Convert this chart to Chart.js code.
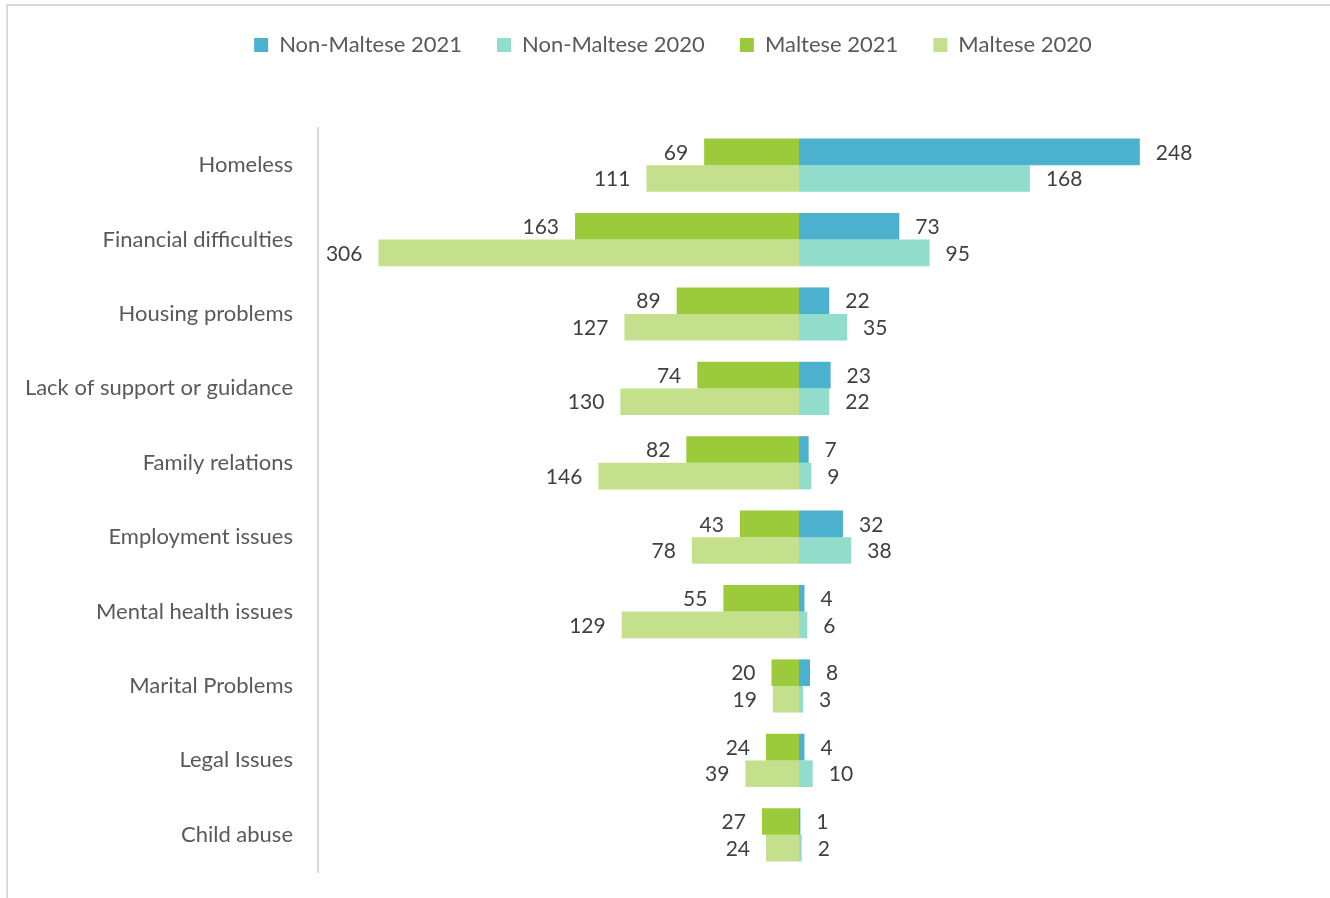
<!DOCTYPE html>
<html>
<head>
<meta charset="utf-8">
<script src="https://cdn.jsdelivr.net/npm/chart.js@4"></script>
<style>
  html, body { margin: 0; padding: 0; background: #fff; }
  #wrap { position: relative; width: 1330px; height: 898px; }
  #frame { position: absolute; left: 6px; top: 4px; right: -4px; bottom: -4px;
           border-top: 2px solid #d9d9d9; border-left: 2px solid #d9d9d9; pointer-events: none; }
</style>
</head>
<body>
<div id="wrap">
  <canvas id="chart" width="1330" height="898"></canvas>
  <div id="frame"></div>
</div>
<script>
// Data
const categories = ['Homeless', 'Financial difficulties', 'Housing problems', 'Lack of support or guidance',
    'Family relations', 'Employment issues', 'Mental health issues', 'Marital Problems', 'Legal Issues', 'Child abuse'];
const nonMaltese2021 = [248, 73, 22, 23, 7, 32, 4, 8, 4, 1];
const nonMaltese2020 = [168, 95, 35, 22, 9, 38, 6, 3, 10, 2];
const maltese2021 = [69, 163, 89, 74, 82, 43, 55, 20, 24, 27];
const maltese2020 = [111, 306, 127, 130, 146, 78, 129, 19, 39, 24];

const fontFamily = 'Lato, "Open Sans", sans-serif';

// Value labels next to bar ends
const barLabels = {
    id: 'barLabels',
    afterDatasetsDraw(chart) {
        const ctx = chart.ctx;
        ctx.save();
        ctx.font = '21px ' + fontFamily;
        ctx.fillStyle = '#404040';
        ctx.textBaseline = 'middle';
        chart.data.datasets.forEach((ds, i) => {
            const meta = chart.getDatasetMeta(i);
            if (meta.hidden) return;
            meta.data.forEach((bar, j) => {
                const v = ds.data[j];
                if (v < 0) {
                    ctx.textAlign = 'right';
                    ctx.fillText(String(-v), bar.x - 16, bar.y + 1);
                } else {
                    ctx.textAlign = 'left';
                    ctx.fillText(String(v), bar.x + 16, bar.y + 1);
                }
            });
        });
        ctx.restore();
    }
};

// Extra space below the legend, and shift it a bit right
const legendSpace = {
    id: 'legendSpace',
    beforeInit(chart) {
        const fit = chart.legend.fit;
        chart.legend.fit = function() {
            fit.bind(chart.legend)();
            this.height = 129;
        };
    },
    afterLayout(chart) {
        chart.legend.left += 33;
        chart.legend.right += 33;
    }
};

const ctx = document.getElementById('chart').getContext('2d');
new Chart(ctx, {
    type: 'bar',
    data: {
        labels: categories,
        datasets: [
            { label: 'Non-Maltese 2021', data: nonMaltese2021, backgroundColor: '#4bb1cf', stack: 'y2021' },
            { label: 'Non-Maltese 2020', data: nonMaltese2020, backgroundColor: '#92dccb', stack: 'y2020' },
            { label: 'Maltese 2021', data: maltese2021.map(v => -v), backgroundColor: '#9bca3a', stack: 'y2021' },
            { label: 'Maltese 2020', data: maltese2020.map(v => -v), backgroundColor: '#c4e08c', stack: 'y2020' }
        ]
    },
    options: {
        indexAxis: 'y',
        responsive: false,
        animation: false,
        layout: { padding: { top: -1, right: 50, bottom: 26, left: 0 } },
        datasets: { bar: { categoryPercentage: 0.715, barPercentage: 1 } },
        plugins: {
            legend: {
                position: 'top',
                labels: {
                    boxWidth: 14,
                    boxHeight: 14,
                    padding: 35,
                    color: '#595959',
                    font: { family: fontFamily, size: 22 }
                }
            },
            tooltip: { enabled: false }
        },
        scales: {
            x: {
                display: false,
                stacked: true,
                min: -350,
                max: 350
            },
            y: {
                stacked: true,
                grid: { display: false, drawTicks: false },
                border: { display: true, color: '#d9d9d9', width: 2 },
                ticks: {
                    padding: 25,
                    color: '#595959',
                    font: { family: fontFamily, size: 22 }
                },
                afterFit(scale) {
                    scale.width = 318;
                    scale.paddingTop = 0;
                    scale.paddingBottom = 0;
                }
            }
        }
    },
    plugins: [barLabels, legendSpace]
});
</script>
</body>
</html>
